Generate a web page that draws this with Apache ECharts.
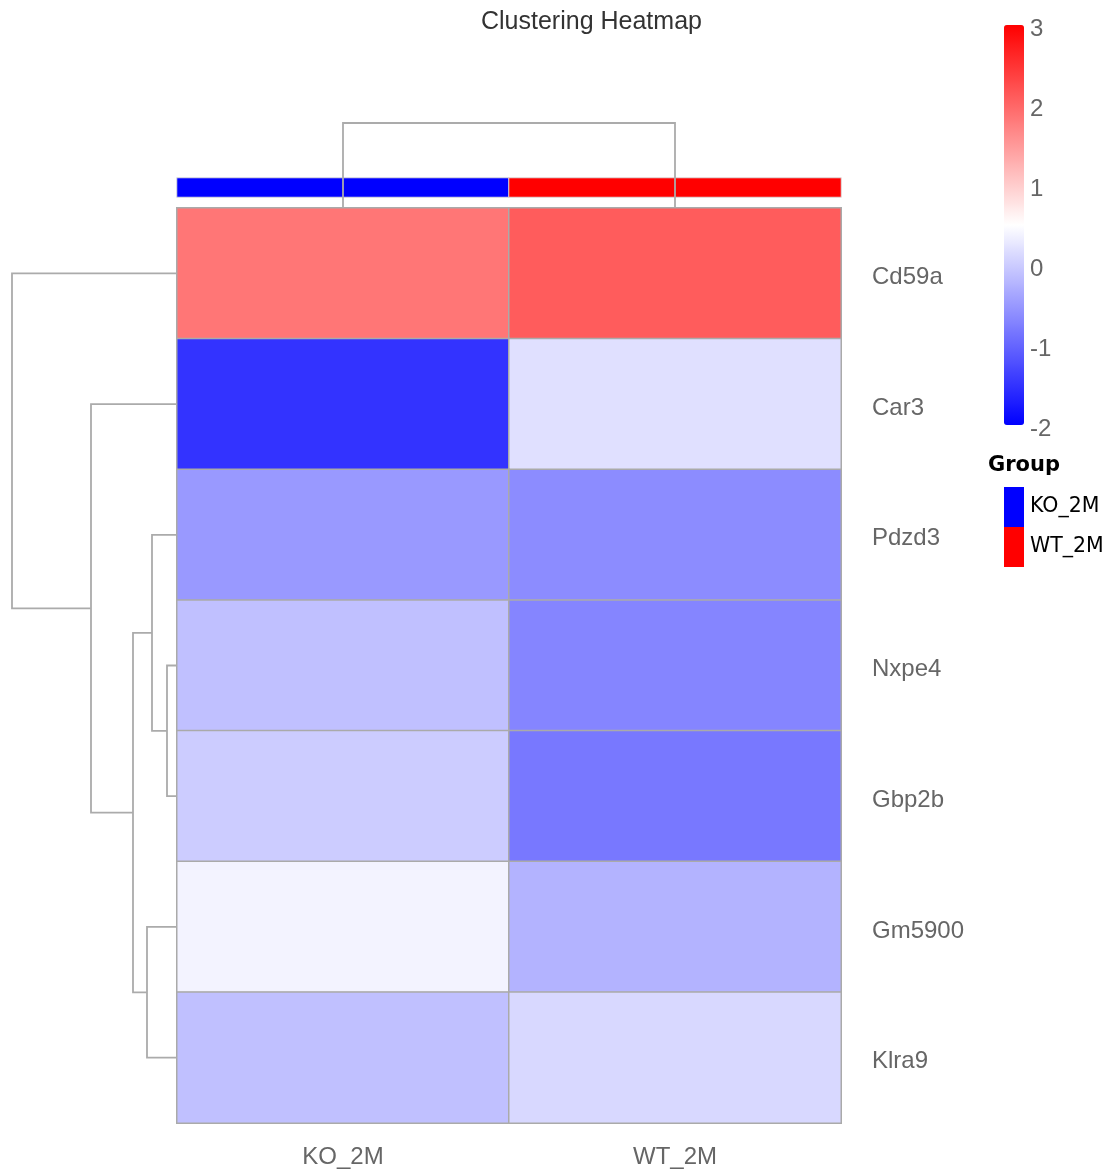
<!DOCTYPE html>
<html><head><meta charset="utf-8">
<script src="https://cdn.jsdelivr.net/npm/echarts@6/dist/echarts.min.js"></script>
<style>html,body{margin:0;padding:0;background:#fff}#c{width:1107px;height:1171px}</style>
</head><body><div id="c"></div>
<script>
// ---- data ----
const samples = ['KO_2M', 'WT_2M'];
const genes = ['Cd59a', 'Car3', 'Pdzd3', 'Nxpe4', 'Gbp2b', 'Gm5900', 'Klra9'];
const koValues = [1.84, -1.5, -0.5, -0.12, 0.0, 0.38, -0.12];
const wtValues = [2.1, 0.2, -0.63, -0.7, -0.82, -0.25, 0.12];
const sampleGroup = [0, 1];            // index into groupNames
const groupNames = ['KO_2M', 'WT_2M'];
const groupColors = ['#0000ff', '#ff0000'];
const colorRange = [-2, 3];
// dendrogram merges: [left, right, height]; negative = leaf -(i+1), positive = merge number (1-based)
const rowMerge = [[-4, -5, 0.20], [-3, 1, 0.50], [-6, -7, 0.60], [2, 3, 0.88], [-2, 4, 1.72], [-1, 5, 3.30]];
const colMerge = [[-1, -2, 1.0]];

// ---- build ----
function dendro(merge, vertical) {
  const pos = [], hgt = [];
  const get = (k) => k < 0 ? [(-k - 1) + 0.5, 0] : [pos[k - 1], hgt[k - 1]];
  const out = [];
  merge.forEach((m) => {
    const [pl, hl] = get(m[0]);
    const [pr, hr] = get(m[1]);
    const h = m[2];
    pos.push((pl + pr) / 2); hgt.push(h);
    const pts = [[hl, pl], [h, pl], [h, pr], [hr, pr]];
    out.push({ coords: vertical ? pts.map(p => [p[1], p[0]]) : pts });
  });
  return out;
}
const heatData = [];
genes.forEach((g, i) => {
  heatData.push([0, i, koValues[i]]);
  heatData.push([1, i, wtValues[i]]);
});
const annData = samples.map((s, j) => [j, 0, sampleGroup[j]]);
const rowMax = Math.max(...rowMerge.map(m => m[2]));
const colMax = Math.max(...colMerge.map(m => m[2]));
const lineCol = '#ababab';
const txtGray = '#666666';

const chart = echarts.init(document.getElementById('c'));
chart.setOption({
  animation: false,
  backgroundColor: '#ffffff',
  textStyle: { fontFamily: 'Liberation Sans' },
  title: [
    { text: 'Clustering Heatmap', left: 481, top: 10, padding: 0,
      textStyle: { fontSize: 25, fontWeight: 'normal', color: '#333333', fontFamily: 'Liberation Sans' } },
    { text: 'Group', left: 988, top: 455, padding: 0,
      textStyle: { fontSize: 21, fontWeight: 'bold', color: '#000000', fontFamily: 'DejaVu Sans' } }
  ],
  grid: [
    { left: 177, top: 208, width: 664, height: 915 },
    { left: 177, top: 178, width: 664, height: 19 },
    { left: 12, top: 208, width: 165, height: 915 },
    { left: 177, top: 123, width: 664, height: 85 },
    { left: 1004, top: 25, width: 20, height: 400 }
  ],
  xAxis: [
    { type: 'category', gridIndex: 0, data: samples, position: 'bottom',
      axisLine: { show: false }, axisTick: { show: false }, splitLine: { show: false },
      axisLabel: { margin: 22, fontSize: 24, color: txtGray } },
    { type: 'category', gridIndex: 1, data: samples, show: false },
    { type: 'value', gridIndex: 2, min: 0, max: rowMax, inverse: true, show: false },
    { type: 'value', gridIndex: 3, min: 0, max: samples.length, show: false },
    { type: 'value', gridIndex: 4, min: 0, max: 1, show: false }
  ],
  yAxis: [
    { type: 'category', gridIndex: 0, data: genes, inverse: true, position: 'right',
      axisLine: { show: false }, axisTick: { show: false }, splitLine: { show: false },
      axisLabel: { margin: 31, fontSize: 24, color: txtGray, verticalAlign: 'top', lineHeight: 8 } },
    { type: 'category', gridIndex: 1, data: ['Group'], show: false },
    { type: 'value', gridIndex: 2, min: 0, max: genes.length, inverse: true, show: false },
    { type: 'value', gridIndex: 3, min: 0, max: colMax, show: false },
    { type: 'value', gridIndex: 4, min: colorRange[0], max: colorRange[1], interval: 1, position: 'right',
      axisLine: { show: false }, axisTick: { show: false }, splitLine: { show: false },
      axisLabel: { margin: 6, fontSize: 24, color: txtGray, verticalAlign: 'top', lineHeight: 8 } }
  ],
  visualMap: [
    { type: 'continuous', seriesIndex: 0, dimension: 2, min: colorRange[0], max: colorRange[1],
      inRange: { color: ['#0000ff', '#ffffff', '#ff0000'] }, calculable: false,
      itemWidth: 20, itemHeight: 400, left: 1004, top: 25, padding: 0, orient: 'vertical' },
    { type: 'piecewise', seriesIndex: 1, dimension: 2,
      pieces: groupNames.map((n, k) => ({ value: k, label: n, color: groupColors[k] })),
      itemWidth: 20, itemHeight: 40, itemGap: 0, itemSymbol: 'rect', inverse: true, align: 'left',
      left: 1004, top: 487, padding: 0, textGap: 6, orient: 'vertical',
      textStyle: { fontFamily: 'DejaVu Sans', fontSize: 20.5, color: '#000000' } }
  ],
  series: [
    { type: 'heatmap', xAxisIndex: 0, yAxisIndex: 0, data: heatData, silent: true,
      itemStyle: { borderColor: '#aaaaaa', borderWidth: 1.5 }, emphasis: { disabled: true } },
    { type: 'heatmap', xAxisIndex: 1, yAxisIndex: 1, data: annData, silent: true,
      itemStyle: { borderColor: '#dedede', borderWidth: 1 }, emphasis: { disabled: true } },
    { type: 'lines', coordinateSystem: 'cartesian2d', xAxisIndex: 2, yAxisIndex: 2, polyline: true,
      silent: true, z: 5, data: dendro(rowMerge, false),
      lineStyle: { color: lineCol, width: 1.8, opacity: 1 } },
    { type: 'lines', coordinateSystem: 'cartesian2d', xAxisIndex: 3, yAxisIndex: 3, polyline: true,
      silent: true, z: 5, data: dendro(colMerge, true),
      lineStyle: { color: lineCol, width: 1.8, opacity: 1 } },
    { type: 'line', xAxisIndex: 4, yAxisIndex: 4, data: [], silent: true }
  ]
});
</script>
</body></html>
